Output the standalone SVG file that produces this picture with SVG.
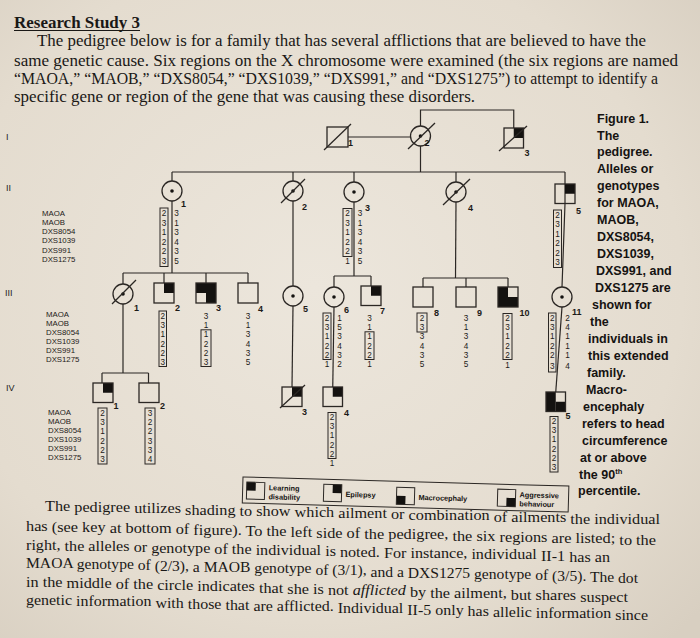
<svg xmlns="http://www.w3.org/2000/svg" width="700" height="638" viewBox="0 0 700 638">
<defs>
<radialGradient id="paper" cx="0.45" cy="0.45" r="0.75">
<stop offset="0" stop-color="#ece6dc"/>
<stop offset="0.7" stop-color="#e4dccf"/>
<stop offset="1" stop-color="#d8cfc1"/>
</radialGradient>
<style>
.l{fill:none;stroke:#2b2724;stroke-width:1.2}
.s{fill:none;stroke:#2b2724;stroke-width:1.3}
.f{fill:#141210}
.bx{fill:none;stroke:#2b2724;stroke-width:1}
.n{font-family:"Liberation Sans",Arial,sans-serif;font-size:8.2px;fill:#1c1a18;text-anchor:middle}
.id{font-family:"Liberation Sans",Arial,sans-serif;font-size:9px;font-weight:bold;fill:#1c1a18}
.rl{font-family:"Liberation Sans",Arial,sans-serif;font-size:7.8px;fill:#1c1a18}
.gen{font-family:"Liberation Sans",Arial,sans-serif;font-size:9px;fill:#1c1a18}
.body{font-family:"Liberation Serif","Times New Roman",serif;font-size:16.5px;fill:#1a1816}
.bt{font-family:"Liberation Serif","Times New Roman",serif;font-size:14.5px;fill:#1a1816}
.cap{font-family:"Liberation Sans",Arial,sans-serif;font-size:12.5px;font-weight:bold;fill:#151311}
.key{font-family:"Liberation Sans",Arial,sans-serif;font-size:7.3px;font-weight:bold;fill:#151311}
</style>
</defs>
<rect width="700" height="638" fill="url(#paper)"/>

<g id="intro-text">
<text class="body" x="14" y="28" font-weight="bold" font-size="14.5" textLength="126" lengthAdjust="spacingAndGlyphs">Research Study 3</text>
<line x1="14" y1="30.5" x2="140" y2="30.5" stroke="#1a1816" stroke-width="1"/>
<text class="body" x="37" y="46" textLength="609" lengthAdjust="spacingAndGlyphs">The pedigree below is for a family that has several afflictions that are believed to have the</text>
<text class="body" x="14" y="65.5" textLength="664" lengthAdjust="spacingAndGlyphs">same genetic cause.  Six regions on the X chromosome were examined (the six regions are named</text>
<text class="body" x="14" y="84" textLength="644" lengthAdjust="spacingAndGlyphs">“MAOA,” “MAOB,” “DXS8054,” “DXS1039,” “DXS991,” and “DXS1275”) to attempt to identify a</text>
<text class="body" x="14" y="102" textLength="461" lengthAdjust="spacingAndGlyphs">specific gene or region of the gene that was causing these disorders.</text>
</g>

<g id="generation-labels" class="gen">
<text x="6" y="140">I</text>
<text x="6" y="191">II</text>
<text x="5" y="296">III</text>
<text x="6" y="391">IV</text>
</g>

<g id="region-labels" class="rl">
<text x="42" y="215.8">MAOA</text><text x="42" y="225">MAOB</text><text x="42" y="234.2">DXS8054</text><text x="42" y="243.4">DXS1039</text><text x="42" y="252.6">DXS991</text><text x="42" y="261.8">DXS1275</text>
<text x="46" y="316.8">MAOA</text><text x="46" y="325.8">MAOB</text><text x="46" y="334.8">DXS8054</text><text x="46" y="343.8">DXS1039</text><text x="46" y="352.8">DXS991</text><text x="46" y="361.8">DXS1275</text>
<text x="48" y="414.8">MAOA</text><text x="48" y="423.8">MAOB</text><text x="48" y="432.8">DXS8054</text><text x="48" y="441.8">DXS1039</text><text x="48" y="450.8">DXS991</text><text x="48" y="459.8">DXS1275</text>
</g>

<g id="connectors" class="l">
<line x1="348" y1="137" x2="410.5" y2="137"/>
<polyline points="420.5,126 420.5,110 513.75,110 513.75,128"/>
<line x1="420.5" y1="146" x2="420.5" y2="172"/>
<line x1="172" y1="172" x2="565" y2="172"/>
<line x1="172" y1="172" x2="172" y2="181"/>
<line x1="293" y1="172" x2="293" y2="181"/>
<line x1="354" y1="172" x2="354" y2="182"/>
<line x1="456" y1="172" x2="456" y2="182"/>
<polyline points="565,172 565,203.5 562,287"/>
<line x1="172" y1="201" x2="172" y2="273"/>
<line x1="123" y1="273" x2="248" y2="273"/>
<line x1="123" y1="273" x2="123" y2="284"/>
<line x1="164" y1="273" x2="164" y2="283"/>
<line x1="206" y1="273" x2="206" y2="283"/>
<line x1="248" y1="273" x2="248" y2="283"/>
<line x1="293" y1="201" x2="293" y2="286"/>
<line x1="354" y1="202" x2="354" y2="276"/>
<line x1="334" y1="276" x2="371" y2="276"/>
<line x1="334" y1="276" x2="334" y2="287"/>
<line x1="371" y1="276" x2="371" y2="286"/>
<line x1="456" y1="202" x2="455.5" y2="278"/>
<line x1="423" y1="278" x2="508" y2="278"/>
<line x1="423" y1="278" x2="423" y2="287"/>
<line x1="466" y1="278" x2="466" y2="287"/>
<line x1="508" y1="278" x2="508" y2="287"/>
<line x1="123" y1="304" x2="123" y2="373"/>
<line x1="102" y1="373" x2="148.5" y2="373"/>
<line x1="102" y1="373" x2="102" y2="383"/>
<line x1="148.5" y1="373" x2="148.5" y2="383"/>
<line x1="293" y1="306" x2="292" y2="387"/>
<line x1="334" y1="307" x2="332.75" y2="387"/>
<line x1="562" y1="307" x2="555.75" y2="392"/>
</g>

<g id="I-1"><rect class="s" x="327" y="127" width="21" height="20"/><line class="s" x1="324" y1="150" x2="351" y2="124"/><text class="id" x="348" y="146">1</text></g>
<g id="I-2"><circle class="s" cx="420.5" cy="136" r="10"/><circle class="f" cx="420.5" cy="136" r="1.8"/><line class="s" x1="408" y1="149" x2="435" y2="123"/><text class="id" x="424.5" y="145.5">2</text></g>
<g id="I-3"><rect class="f" x="513.75" y="128" width="9.75" height="10"/><rect class="s" x="504" y="128" width="19.5" height="20"/><line class="s" x1="499" y1="151" x2="527" y2="126"/><text class="id" x="524.5" y="156">3</text></g>

<g id="II-1"><circle class="s" cx="172" cy="191" r="10"/><circle class="f" cx="172" cy="191" r="1.8"/><text class="id" x="181" y="207">1</text>
<rect class="bx" x="160" y="208" width="8" height="58.5"/>
<text class="n"><tspan x="164" y="216.4">2</tspan><tspan x="164" y="225.9">3</tspan><tspan x="164" y="235.4">1</tspan><tspan x="164" y="244.9">2</tspan><tspan x="164" y="254.4">2</tspan><tspan x="164" y="263.9">3</tspan></text>
<text class="n"><tspan x="176.5" y="216.4">3</tspan><tspan x="176.5" y="225.9">1</tspan><tspan x="176.5" y="235.4">3</tspan><tspan x="176.5" y="244.9">4</tspan><tspan x="176.5" y="254.4">3</tspan><tspan x="176.5" y="263.9">5</tspan></text></g>
<g id="II-2"><circle class="s" cx="293" cy="191" r="10"/><circle class="f" cx="293" cy="191" r="1.8"/><line class="s" x1="281" y1="203" x2="305" y2="179"/><text class="id" x="302" y="210">2</text></g>
<g id="II-3"><circle class="s" cx="354" cy="192" r="10"/><circle class="f" cx="354" cy="192" r="1.8"/><text class="id" x="365" y="211">3</text>
<rect class="bx" x="343" y="208.5" width="9" height="48"/>
<text class="n"><tspan x="347.5" y="216.4">2</tspan><tspan x="347.5" y="225.9">3</tspan><tspan x="347.5" y="235.4">1</tspan><tspan x="347.5" y="244.9">2</tspan><tspan x="347.5" y="254.4">2</tspan><tspan x="347.5" y="263.9">1</tspan></text>
<text class="n"><tspan x="360" y="216.4">3</tspan><tspan x="360" y="225.9">1</tspan><tspan x="360" y="235.4">3</tspan><tspan x="360" y="244.9">4</tspan><tspan x="360" y="254.4">3</tspan><tspan x="360" y="263.9">5</tspan></text></g>
<g id="II-4"><circle class="s" cx="456" cy="192" r="10"/><circle class="f" cx="456" cy="192" r="1.8"/><line class="s" x1="443" y1="205" x2="470" y2="179"/><text class="id" x="468" y="211">4</text></g>
<g id="II-5"><rect class="f" x="565" y="184" width="10" height="9.75"/><rect class="s" x="555" y="184" width="20" height="19.5"/><text class="id" x="576" y="214">5</text>
<rect class="bx" x="553.5" y="210" width="8" height="57.5"/>
<text class="n"><tspan x="557.5" y="217.9">2</tspan><tspan x="557.5" y="227.4">3</tspan><tspan x="557.5" y="236.9">1</tspan><tspan x="557.5" y="246.4">2</tspan><tspan x="557.5" y="255.9">2</tspan><tspan x="557.5" y="265.4">3</tspan></text></g>

<g id="III-1"><circle class="s" cx="123" cy="294" r="10"/><circle class="f" cx="123" cy="294" r="1.8"/><line class="s" x1="112" y1="304" x2="136" y2="280"/><text class="id" x="134" y="311">1</text></g>
<g id="III-2"><rect class="f" x="164" y="283" width="10" height="10"/><rect class="s" x="154" y="283" width="20" height="20"/><text class="id" x="175" y="311">2</text>
<rect class="bx" x="159" y="311" width="7.5" height="55.5"/>
<text class="n"><tspan x="162.75" y="318.9">2</tspan><tspan x="162.75" y="328.1">3</tspan><tspan x="162.75" y="337.3">1</tspan><tspan x="162.75" y="346.5">2</tspan><tspan x="162.75" y="355.7">2</tspan><tspan x="162.75" y="364.9">3</tspan></text></g>
<g id="III-3"><rect class="f" x="196" y="283" width="20" height="10"/><rect class="f" x="206" y="293" width="10" height="10"/><rect class="s" x="196" y="283" width="20" height="20"/><text class="id" x="216" y="311">3</text>
<rect class="bx" x="201" y="329.8" width="10" height="36.7"/>
<text class="n"><tspan x="206" y="318.9">3</tspan><tspan x="206" y="328.1">1</tspan><tspan x="206" y="337.3">1</tspan><tspan x="206" y="346.5">2</tspan><tspan x="206" y="355.7">2</tspan><tspan x="206" y="364.9">3</tspan></text></g>
<g id="III-4"><rect class="s" x="238" y="283" width="20" height="20"/><text class="id" x="258" y="312">4</text>
<text class="n"><tspan x="248" y="318.9">3</tspan><tspan x="248" y="328.1">1</tspan><tspan x="248" y="337.3">3</tspan><tspan x="248" y="346.5">4</tspan><tspan x="248" y="355.7">3</tspan><tspan x="248" y="364.9">5</tspan></text></g>
<g id="III-5"><circle class="s" cx="293" cy="296" r="10"/><circle class="f" cx="293" cy="296" r="1.8"/><text class="id" x="303" y="312">5</text></g>
<g id="III-6"><circle class="s" cx="334" cy="297" r="10"/><circle class="f" cx="334" cy="297" r="1.8"/><text class="id" x="344" y="313">6</text>
<rect class="bx" x="323" y="313" width="8" height="46.5"/>
<text class="n"><tspan x="327" y="320.9">2</tspan><tspan x="327" y="330.1">3</tspan><tspan x="327" y="339.3">1</tspan><tspan x="327" y="348.5">2</tspan><tspan x="327" y="357.7">2</tspan><tspan x="327" y="366.9">1</tspan></text>
<text class="n"><tspan x="339.5" y="320.9">1</tspan><tspan x="339.5" y="330.1">5</tspan><tspan x="339.5" y="339.3">3</tspan><tspan x="339.5" y="348.5">4</tspan><tspan x="339.5" y="357.7">3</tspan><tspan x="339.5" y="366.9">2</tspan></text></g>
<g id="III-7"><rect class="f" x="371" y="286" width="10" height="9.75"/><rect class="s" x="361" y="286" width="20" height="19.5"/><text class="id" x="380" y="314">7</text>
<rect class="bx" x="365" y="331.8" width="9" height="27.7"/>
<text class="n"><tspan x="369.5" y="320.9">3</tspan><tspan x="369.5" y="330.1">1</tspan><tspan x="369.5" y="339.3">1</tspan><tspan x="369.5" y="348.5">2</tspan><tspan x="369.5" y="357.7">2</tspan><tspan x="369.5" y="366.9">1</tspan></text></g>
<g id="III-8"><rect class="s" x="413" y="287" width="20" height="20"/><text class="id" x="434" y="316">8</text>
<rect class="bx" x="417" y="313" width="10" height="19"/>
<text class="n"><tspan x="422" y="320.9">2</tspan><tspan x="422" y="330.1">3</tspan><tspan x="422" y="339.3">3</tspan><tspan x="422" y="348.5">4</tspan><tspan x="422" y="357.7">3</tspan><tspan x="422" y="366.9">5</tspan></text></g>
<g id="III-9"><rect class="s" x="456" y="287" width="20" height="20"/><text class="id" x="477" y="316">9</text>
<text class="n"><tspan x="466" y="320.9">3</tspan><tspan x="466" y="330.1">1</tspan><tspan x="466" y="339.3">3</tspan><tspan x="466" y="348.5">4</tspan><tspan x="466" y="357.7">3</tspan><tspan x="466" y="366.9">5</tspan></text></g>
<g id="III-10"><rect class="f" x="498" y="287" width="10" height="20"/><rect class="f" x="508" y="297" width="10" height="10"/><rect class="s" x="498" y="287" width="20" height="20"/><text class="id" x="519.5" y="316">10</text>
<rect class="bx" x="503" y="313.5" width="9" height="46"/>
<text class="n"><tspan x="507.5" y="320.9">2</tspan><tspan x="507.5" y="330.1">3</tspan><tspan x="507.5" y="339.3">1</tspan><tspan x="507.5" y="348.5">2</tspan><tspan x="507.5" y="357.7">2</tspan><tspan x="507.5" y="367.9">1</tspan></text></g>
<g id="III-11"><circle class="s" cx="562" cy="297" r="10"/><circle class="f" cx="562" cy="297" r="1.8"/><text class="id" x="572" y="315">11</text>
<rect class="bx" x="548.5" y="313" width="7.5" height="59"/>
<text class="n"><tspan x="552.25" y="320.9">2</tspan><tspan x="552.25" y="330.1">3</tspan><tspan x="552.25" y="339.3">1</tspan><tspan x="552.25" y="348.5">2</tspan><tspan x="552.25" y="357.7">2</tspan><tspan x="552.25" y="368.9">3</tspan></text>
<text class="n"><tspan x="567.5" y="320.9">2</tspan><tspan x="567.5" y="330.1">4</tspan><tspan x="567.5" y="339.3">1</tspan><tspan x="567.5" y="348.5">1</tspan><tspan x="567.5" y="357.7">1</tspan><tspan x="567.5" y="368.9">4</tspan></text></g>

<g id="IV-1"><rect class="f" x="103" y="383" width="10" height="9.75"/><rect class="s" x="93" y="383" width="20" height="19.5"/><text class="id" x="113.5" y="409">1</text>
<rect class="bx" x="98" y="408" width="9" height="56"/>
<text class="n"><tspan x="102.5" y="415.9">2</tspan><tspan x="102.5" y="425.1">3</tspan><tspan x="102.5" y="434.3">1</tspan><tspan x="102.5" y="443.5">2</tspan><tspan x="102.5" y="452.7">2</tspan><tspan x="102.5" y="461.9">3</tspan></text></g>
<g id="IV-2"><rect class="s" x="139" y="383" width="20" height="19.5"/><text class="id" x="160" y="409">2</text>
<rect class="bx" x="145" y="408" width="10" height="56"/>
<text class="n"><tspan x="150" y="415.9">3</tspan><tspan x="150" y="425.1">2</tspan><tspan x="150" y="434.3">2</tspan><tspan x="150" y="443.5">3</tspan><tspan x="150" y="452.7">3</tspan><tspan x="150" y="461.9">4</tspan></text></g>
<g id="IV-3"><rect class="f" x="292" y="387" width="10" height="9.75"/><rect class="s" x="282" y="387" width="20" height="19.5"/><line class="s" x1="280" y1="408" x2="305" y2="385"/><text class="id" x="302" y="415">3</text></g>
<g id="IV-4"><rect class="f" x="332.75" y="387" width="9.75" height="9.75"/><rect class="s" x="323" y="387" width="19.5" height="19.5"/><text class="id" x="344" y="416">4</text>
<rect class="bx" x="328" y="412.5" width="8" height="46"/>
<text class="n"><tspan x="332" y="419.9">2</tspan><tspan x="332" y="429.1">3</tspan><tspan x="332" y="438.3">1</tspan><tspan x="332" y="447.5">2</tspan><tspan x="332" y="456.7">2</tspan><tspan x="332" y="465.9">1</tspan></text></g>
<g id="IV-5"><rect class="f" x="546" y="392" width="9.75" height="19.5"/><rect class="f" x="555.75" y="401.75" width="9.75" height="9.75"/><rect class="s" x="546" y="392" width="19.5" height="19.5"/><text class="id" x="565.5" y="419">5</text>
<rect class="bx" x="550" y="416.5" width="8" height="55.5"/>
<text class="n"><tspan x="554" y="423.9">2</tspan><tspan x="554" y="433.1">3</tspan><tspan x="554" y="442.3">1</tspan><tspan x="554" y="451.5">2</tspan><tspan x="554" y="460.7">2</tspan><tspan x="554" y="469.9">3</tspan></text></g>

<g id="key" transform="rotate(1.6 243 477)">
<rect class="bx" x="243" y="477" width="326" height="26"/>
<rect class="f" x="247" y="482" width="9" height="8.5"/><rect class="bx" x="247" y="482" width="18" height="17"/>
<text class="key" x="269" y="489.5">Learning</text><text class="key" x="269" y="498.5">disability</text>
<rect class="f" x="333" y="482" width="9" height="8.5"/><rect class="bx" x="324" y="482" width="18" height="17"/>
<text class="key" x="346" y="494">Epilepsy</text>
<rect class="f" x="397" y="491.5" width="9" height="8.5"/><rect class="bx" x="397" y="483" width="18" height="17"/>
<text class="key" x="419" y="495">Macrocephaly</text>
<rect class="f" x="507" y="490.5" width="9" height="8.5"/><rect class="bx" x="498" y="482" width="18" height="17"/>
<text class="key" x="520" y="489.5">Aggressive</text><text class="key" x="520" y="498.5">behaviour</text>
</g>

<g id="caption" class="cap">
<text x="597" y="122.5">Figure 1.</text>
<text x="597" y="139.5">The</text>
<text x="597" y="156.4">pedigree.</text>
<text x="597" y="173.4">Alleles or</text>
<text x="597" y="190.3">genotypes</text>
<text x="597" y="207.3">for MAOA,</text>
<text x="597" y="224.2">MAOB,</text>
<text x="597" y="241.2">DXS8054,</text>
<text x="597" y="258.1">DXS1039,</text>
<text x="596" y="275.1">DXS991, and</text>
<text x="595" y="292">DXS1275 are</text>
<text x="592" y="309">shown for</text>
<text x="590" y="325.9">the</text>
<text x="588" y="342.9">individuals in</text>
<text x="588" y="359.8">this extended</text>
<text x="587" y="376.8">family.</text>
<text x="586" y="393.7">Macro-</text>
<text x="583" y="410.7">encephaly</text>
<text x="582" y="427.6">refers to head</text>
<text x="582" y="444.6">circumference</text>
<text x="580" y="461.5">at or above</text>
<text x="579" y="478.5">the 90<tspan font-size="7.5" dy="-4.5">th</tspan></text>
<text x="578" y="495.4">percentile.</text>
</g>

<g id="explanation-text" class="bt">
<text x="45" y="511" textLength="615" lengthAdjust="spacingAndGlyphs">The<tspan dy="0.64"> pedigree</tspan><tspan dy="1.44"> utilizes</tspan><tspan dy="1.6"> shading</tspan><tspan dy="1.28"> to</tspan><tspan dy="0.48"> show</tspan><tspan dy="0.8"> which</tspan><tspan dy="0.96"> ailment</tspan><tspan dy="1.28"> or</tspan><tspan dy="0.48"> combination</tspan><tspan dy="1.92"> of</tspan><tspan dy="0.48"> ailments</tspan><tspan dy="1.44"> the</tspan><tspan dy="0.64"> individual</tspan></text>
<text x="26" y="531" textLength="630" lengthAdjust="spacingAndGlyphs">has<tspan dy="0.56"> (see</tspan><tspan dy="0.7"> key</tspan><tspan dy="0.56"> at</tspan><tspan dy="0.42"> bottom</tspan><tspan dy="0.98"> of</tspan><tspan dy="0.42"> figure).</tspan><tspan dy="1.26">  To</tspan><tspan dy="0.42"> the</tspan><tspan dy="0.56"> left</tspan><tspan dy="0.7"> side</tspan><tspan dy="0.7"> of</tspan><tspan dy="0.42"> the</tspan><tspan dy="0.56"> pedigree,</tspan><tspan dy="1.4"> the</tspan><tspan dy="0.56"> six</tspan><tspan dy="0.56"> regions</tspan><tspan dy="1.12"> are</tspan><tspan dy="0.56"> listed;</tspan><tspan dy="1.12"> to</tspan><tspan dy="0.42"> the</tspan></text>
<text x="26" y="550" textLength="584" lengthAdjust="spacingAndGlyphs">right,<tspan dy="0.91"> the</tspan><tspan dy="0.52"> alleles</tspan><tspan dy="1.04"> or</tspan><tspan dy="0.39"> genotype</tspan><tspan dy="1.17"> of</tspan><tspan dy="0.39"> the</tspan><tspan dy="0.52"> individual</tspan><tspan dy="1.43"> is</tspan><tspan dy="0.39"> noted.</tspan><tspan dy="0.91">  For</tspan><tspan dy="0.52"> instance,</tspan><tspan dy="1.3"> individual</tspan><tspan dy="1.43"> II-1</tspan><tspan dy="0.65"> has</tspan><tspan dy="0.52"> an</tspan></text>
<text x="26" y="568" textLength="612" lengthAdjust="spacingAndGlyphs">MAOA<tspan dy="0.85"> genotype</tspan><tspan dy="1.53"> of</tspan><tspan dy="0.51"> (2/3),</tspan><tspan dy="1.19"> a</tspan><tspan dy="0.34"> MAOB</tspan><tspan dy="0.85"> genotype</tspan><tspan dy="1.53"> of</tspan><tspan dy="0.51"> (3/1),</tspan><tspan dy="1.19"> and</tspan><tspan dy="0.68"> a</tspan><tspan dy="0.34"> DXS1275</tspan><tspan dy="1.36"> genotype</tspan><tspan dy="1.53"> of</tspan><tspan dy="0.51"> (3/5).</tspan><tspan dy="1.19">  The</tspan><tspan dy="0.68"> dot</tspan></text>
<text x="26" y="586.5" textLength="602" lengthAdjust="spacingAndGlyphs">in<tspan dy="0.5"> the</tspan><tspan dy="0.66"> middle</tspan><tspan dy="1.16"> of</tspan><tspan dy="0.5"> the</tspan><tspan dy="0.66"> circle</tspan><tspan dy="1.16"> indicates</tspan><tspan dy="1.65"> that</tspan><tspan dy="0.83"> she</tspan><tspan dy="0.66"> is</tspan><tspan dy="0.5"> not</tspan><tspan dy="0.66"> </tspan><tspan font-style="italic">afflicted</tspan><tspan dy="1.65"> by</tspan><tspan dy="0.5"> the</tspan><tspan dy="0.66"> ailment,</tspan><tspan dy="1.49"> but</tspan><tspan dy="0.66"> shares</tspan><tspan dy="1.16"> suspect</tspan></text>
<text x="26" y="605" textLength="622" lengthAdjust="spacingAndGlyphs">genetic<tspan dy="1.24"> information</tspan><tspan dy="1.86"> with</tspan><tspan dy="0.78"> those</tspan><tspan dy="0.93"> that</tspan><tspan dy="0.78"> are</tspan><tspan dy="0.62"> afflicted.</tspan><tspan dy="1.71">  Individual</tspan><tspan dy="1.71"> II-5</tspan><tspan dy="0.78"> only</tspan><tspan dy="0.78"> has</tspan><tspan dy="0.62"> allelic</tspan><tspan dy="1.24"> information</tspan><tspan dy="1.86"> since</tspan></text>
</g>
</svg>
